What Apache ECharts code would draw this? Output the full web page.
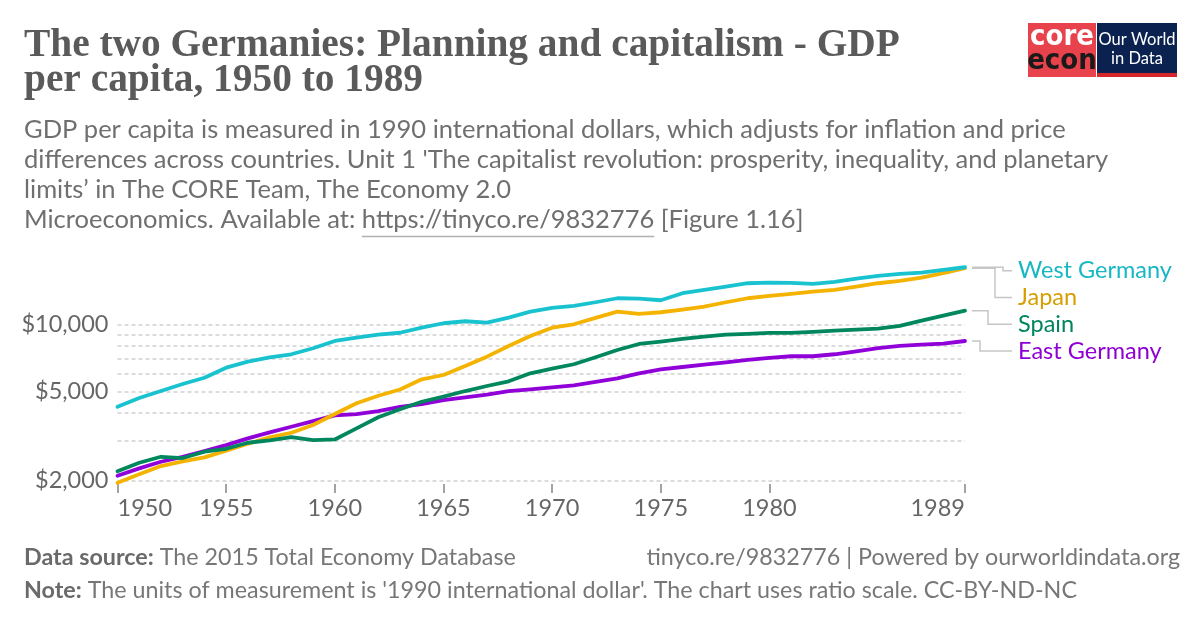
<!DOCTYPE html>
<html><head><meta charset="utf-8">
<script src="https://cdn.jsdelivr.net/npm/echarts@6/dist/echarts.min.js"></script>
<style>html,body{margin:0;padding:0;background:#fff}#c{width:1200px;height:628px}</style>
</head><body><div id="c"></div>
<script>
// ---------- data ----------
const years = [1950,1951,1952,1953,1954,1955,1956,1957,1958,1959,1960,1961,1962,1963,1964,1965,1966,1967,1968,1969,1970,1971,1972,1973,1974,1975,1976,1977,1978,1979,1980,1981,1982,1983,1984,1985,1986,1987,1988,1989];
const westGermany = [4276,4678,5028,5408,5770,6400,6810,7120,7350,7820,8430,8720,9000,9180,9670,10125,10337,10188,10727,11413,11860,12107,12577,13107,13053,12842,13804,14283,14780,15305,15400,15350,15196,15513,16050,16505,16850,17080,17560,18055];
const japan = [1950,2127,2317,2432,2535,2715,2917,3116,3268,3540,3965,4429,4790,5110,5675,5933,6510,7170,8009,8880,9670,10020,10695,11413,11145,11344,11660,12020,12577,13107,13420,13700,14040,14283,14780,15305,15673,16220,16975,17870];
const spain = [2194,2398,2550,2517,2687,2770,2947,3020,3127,3030,3050,3420,3833,4163,4500,4742,5028,5297,5560,6040,6333,6630,7125,7680,8175,8370,8610,8816,9000,9066,9159,9159,9255,9380,9477,9575,9846,10400,10950,11535];
const eastGermany = [2096,2262,2422,2550,2705,2877,3085,3280,3477,3688,3912,3965,4090,4270,4396,4580,4712,4842,5028,5117,5224,5334,5520,5734,6040,6293,6445,6600,6766,6930,7074,7200,7200,7350,7580,7840,8010,8116,8200,8430];
const seriesNames = ['West Germany','Japan','Spain','East Germany'];
const yTickValues = [2000,5000,10000];
const yGridValues = [2000,3000,4000,5000,6000,7000,8000,9000,10000];
const xTickValues = [1950,1955,1960,1965,1970,1975,1980,1989];

// ---------- texts ----------
const titleLines = ['The two Germanies: Planning and capitalism - GDP','per capita, 1950 to 1989'];
const subtitleLines = [
  'GDP per capita is measured in 1990 international dollars, which adjusts for inflation and price',
  "differences across countries. Unit 1 'The capitalist revolution: prosperity, inequality, and planetary",
  'limits\u2019 in The CORE Team, The Economy 2.0'
];
const subLast = ['Microeconomics. Available at: ','https://tinyco.re/9832776',' [Figure 1.16]'];

// ---------- styles ----------
const lineColors = {'West Germany':'#19C2CF','Japan':'#F5B301','Spain':'#00875E','East Germany':'#9000D8'};
const labelColors = {'West Germany':'#18B7C4','Japan':'#D69E00','Spain':'#00855D','East Germany':'#8F00D2'};
const FONT = 'Lato';
const SANS = 'Lato, "Noto Sans", sans-serif';
const SERIF = '"Liberation Serif", "DejaVu Serif", serif';
const GRID = {left:117.5, right:235, top:267, bottom:144};
const AXIS_FS = 23.5, SUB_FS = 25.5, FOOT_FS = 23.3;

const chart = echarts.init(document.getElementById('c'), null, {renderer:'canvas', width:1200, height:628});
const dataMap = {'West Germany':westGermany,'Japan':japan,'Spain':spain,'East Germany':eastGermany};
const drawOrder = ['East Germany','Japan','Spain','West Germany'];

const series = [{
  type:'line', name:'grid', data:[], z:1, silent:true,
  markLine:{silent:true, symbol:'none', label:{show:false}, animation:false, z:1,
    lineStyle:{color:'#dcdcdc', type:[4,3], width:2},
    data: yGridValues.map(v => ({yAxis:v}))}
}].concat(drawOrder.map(n => ({
  type:'line', name:n, z:3, showSymbol:false, symbol:'none', silent:true,
  data: years.map((y,i) => [y, dataMap[n][i]]),
  lineStyle:{color:lineColors[n], width:3.8, cap:'round', join:'round'},
  itemStyle:{color:lineColors[n]}
})));

chart.setOption({
  animation:false,
  backgroundColor:'#fff',
  grid: GRID,
  xAxis:{type:'value', min:1950, max:1989,
    axisLine:{show:false}, splitLine:{show:false},
    axisTick:{show:true, customValues:xTickValues, length:9, lineStyle:{color:'#a3a3a3', width:2}},
    axisLabel:{customValues:xTickValues, color:'#666', fontSize:AXIS_FS, fontFamily:SANS, margin:12,
      alignMinLabel:'left', alignMaxLabel:'right', formatter: v => String(v)}},
  yAxis:{type:'log', logBase:10, min:1925, max:18100,
    axisLine:{show:false}, axisTick:{show:false}, splitLine:{show:false}, minorSplitLine:{show:false},
    axisLabel:{customValues:yTickValues, color:'#666', fontSize:AXIS_FS, fontFamily:SANS, margin:9,
      formatter: v => '$' + Number(v).toLocaleString('en-US')}},
  series: series
});

// ---------- end labels with connectors ----------
const ctx = document.createElement('canvas').getContext('2d');
function measure(font, t){ ctx.font = font; return ctx.measureText(t).width; }

const ends = seriesNames.map(n => {
  const d = dataMap[n];
  const p = chart.convertToPixel({gridIndex:0}, [years[years.length-1], d[d.length-1]]);
  return {name:n, x:p[0], y:p[1]};
});
const sorted = ends.slice().sort((a,b) => a.y - b.y);
const GAP = 26.7, SHIFT = 3.6;
let prev = -Infinity;
sorted.forEach(e => { e.ly = Math.max(e.y, prev + GAP); prev = e.ly; });
sorted.forEach(e => { e.ly += SHIFT; });
const elbowOffsets = {'West Germany':31,'Japan':23,'Spain':16,'East Germany':8};

function txt(x, y, text, o) {
  return {type:'text', silent:true, x:x, y:y, z:o.z || 5,
    style:Object.assign({text:text, fill:o.fill, fontSize:o.fs, fontFamily:o.ff || FONT, fontWeight:o.fw || 'normal',
      align:o.align || 'left', verticalAlign:o.va || 'middle', textAlign:o.align || 'left', textVerticalAlign:o.va || 'middle'}, o.extra || {})};
}

const graphics = [];
ends.forEach(e => {
  const x0 = e.x + 7, xe = x0 + elbowOffsets[e.name], x1 = x0 + 40;
  graphics.push({type:'polyline', silent:true, z:5,
    shape:{points:[[x0,e.y],[xe,e.y],[xe,e.ly],[x1,e.ly]]},
    style:{stroke:'#c6c6c6', lineWidth:1.5, fill:null}});
  graphics.push(txt(x1+6, e.ly, e.name, {fill:labelColors[e.name], fs:AXIS_FS}));
});

// ---------- title ----------
const titleRefW = 876;
const tw = measure('bold 36px "Liberation Serif"', titleLines[0]);
const titleSize = Math.min(40, 36 * titleRefW / tw);
titleLines.forEach((t,i) => {
  graphics.push(txt(24, 65 + i*35, t, {fill:'#5a5a5a', fs:titleSize, ff:SERIF, fw:'bold', va:'bottom'}));
});
// ---------- subtitle ----------
subtitleLines.forEach((t,i) => {
  graphics.push(txt(24, 130 + i*30, t, {fill:'#6f6f6f', fs:SUB_FS}));
});
const lastY = 130 + 3*30;
graphics.push(txt(24, lastY, subLast.join(''), {fill:'#6f6f6f', fs:SUB_FS}));
const subFont = SUB_FS + 'px Lato';
const w1 = measure(subFont, subLast[0]), w2 = measure(subFont, subLast[1]);
graphics.push({type:'line', silent:true, shape:{x1:24+w1, y1:lastY+16.5, x2:24+w1+w2, y2:lastY+16.5},
  style:{stroke:'#b0b0b0', lineWidth:1.5}});

// ---------- footer ----------
const rich = {b:{fontWeight:'bold', fill:'#6a6a6a', fontSize:FOOT_FS, fontFamily:FONT},
              r:{fontWeight:'normal', fill:'#777', fontSize:FOOT_FS, fontFamily:FONT}};
graphics.push(txt(24, 557, '{b|Data source:}{r| The 2015 Total Economy Database}', {fill:'#777', fs:FOOT_FS, extra:{rich:rich}}));
graphics.push(txt(24, 590, "{b|Note:}{r| The units of measurement is '1990 international dollar'. The chart uses ratio scale. CC-BY-ND-NC}", {fill:'#777', fs:FOOT_FS, extra:{rich:rich}}));
graphics.push(txt(1180, 557, 'tinyco.re/9832776 | Powered by ourworldindata.org', {fill:'#777', fs:FOOT_FS, align:'right'}));

// ---------- logo ----------
graphics.push({type:'rect', silent:true, shape:{x:1028, y:23, width:68, height:54}, style:{fill:'#E8434C'}});
graphics.push({type:'rect', silent:true, shape:{x:1097, y:23, width:80, height:54}, style:{fill:'#0B2250'}});
graphics.push({type:'rect', silent:true, shape:{x:1097, y:73, width:80, height:4}, style:{fill:'#D4262B'}});
const LOGO_FF = '"DejaVu Sans Condensed", "Liberation Sans Narrow", "Liberation Sans", sans-serif';
graphics.push(txt(1062, 37, 'core', {fill:'#fff', fs:29, ff:LOGO_FF, fw:'bold', align:'center'}));
graphics.push(txt(1062, 61, 'econ', {fill:'#1a1a1a', fs:29, ff:LOGO_FF, fw:'bold', align:'center'}));
graphics.push(txt(1137, 40, 'Our World', {fill:'#fff', fs:16.5, align:'center'}));
graphics.push(txt(1137, 59, 'in Data', {fill:'#fff', fs:16.5, align:'center'}));

chart.setOption({graphic: graphics});
</script></body></html>
